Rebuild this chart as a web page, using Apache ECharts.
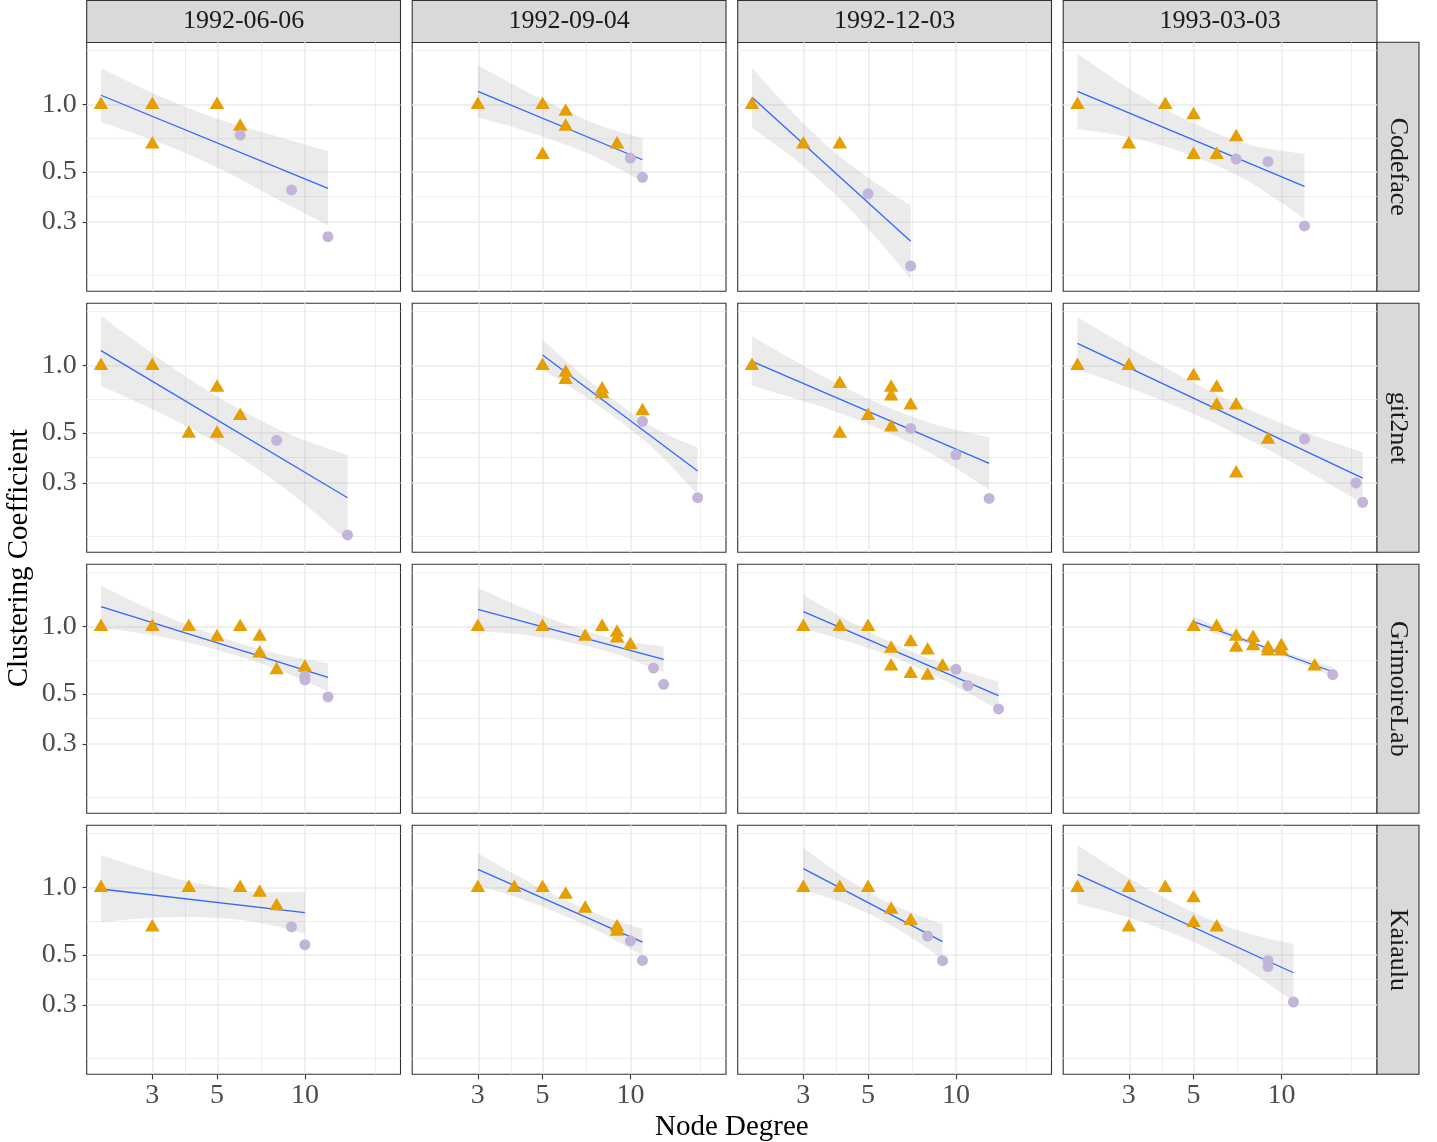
<!DOCTYPE html>
<html>
<head>
<meta charset="utf-8">
<script src="https://cdn.jsdelivr.net/npm/echarts@6.0.0/dist/echarts.min.js"></script>
<style>
  html, body { margin: 0; padding: 0; background: #ffffff; }
  #chart { width: 1437px; height: 1142px; }
</style>
</head>
<body>
<div id="chart"></div>
<script>
// ---------------- data ----------------
const projects = ['Codeface', 'git2net', 'GrimoireLab', 'Kaiaulu'];
const dates = ['1992-06-06', '1992-09-04', '1992-12-03', '1993-03-03'];

const xTicks = [3, 5, 10];
const yTicks = [0.3, 0.5, 1.0];
const xMinorGrid = [3.87, 7.07, 17.3];
const yMinorGrid = [0.173, 0.387, 0.707, 1.73];
const xLimits = [1.787, 21.27];
const yLimits = [0.1474, 1.887];

// panel order: row = project, column = date
// triangles: [node degree, clustering coefficient]
const trianglePoints = [
  [[2,1],[3,1],[3,0.667],[5,1],[6,0.8]],
  [[3,1],[5,1],[6,0.933],[6,0.8],[5,0.6],[9,0.667]],
  [[2,1],[3,0.667],[4,0.667]],
  [[2,1],[3,0.667],[4,1],[5,0.9],[5,0.6],[6,0.6],[7,0.72]],
  [[2,1],[3,1],[5,0.8],[6,0.6],[4,0.5],[5,0.5]],
  [[5,1],[6,0.933],[6,0.867],[8,0.786],[8,0.75],[11,0.63]],
  [[2,1],[4,0.833],[4,0.5],[6,0.8],[6,0.733],[7,0.667],[5,0.6],[6,0.533]],
  [[2,1],[3,1],[5,0.9],[6,0.8],[6,0.667],[7,0.667],[9,0.47],[7,0.333]],
  [[2,1],[3,1],[4,1],[6,1],[5,0.9],[7,0.905],[7,0.762],[8,0.643],[10,0.66]],
  [[3,1],[5,1],[8,1],[7,0.905],[9,0.944],[9,0.889],[10,0.83]],
  [[3,1],[4,1],[5,1],[6,0.8],[7,0.857],[8,0.786],[6,0.667],[7,0.619],[8,0.607],[9,0.667]],
  [[5,1],[6,1],[7,0.905],[7,0.81],[8,0.893],[8,0.821],[9,0.806],[9,0.778],[10,0.822],[10,0.778],[13,0.667]],
  [[2,1],[3,0.667],[4,1],[6,1],[7,0.952],[8,0.83]],
  [[3,1],[4,1],[5,1],[6,0.933],[7,0.81],[9,0.667],[9,0.639]],
  [[3,1],[4,1],[5,1],[6,0.8],[7,0.714]],
  [[2,1],[3,1],[3,0.667],[4,1],[5,0.9],[5,0.7],[6,0.667]]
];

// circles: [node degree, clustering coefficient]
const circlePoints = [
  [[6,0.73],[9,0.416],[12,0.258]],
  [[10,0.577],[11,0.4735]],
  [[5,0.4],[7,0.191]],
  [[7,0.571],[9,0.556],[12,0.288]],
  [[8,0.464],[14,0.176]],
  [[11,0.564],[17,0.2578]],
  [[7,0.524],[10,0.4],[13,0.256]],
  [[12,0.47],[18,0.3],[19,0.246]],
  [[10,0.6],[10,0.578],[12,0.485]],
  [[12,0.652],[13,0.552]],
  [[10,0.644],[11,0.545],[14,0.429]],
  [[15,0.61]],
  [[9,0.667],[10,0.556]],
  [[10,0.578],[11,0.473]],
  [[8,0.607],[9,0.472]],
  [[9,0.472],[9,0.444],[11,0.309]]
];

// fitted line end points: [degree, cc]
const fitLine = [
  [[2,1.097],[12,0.423]],
  [[3,1.142],[11,0.567]],
  [[2,1.074],[7,0.246]],
  [[2,1.142],[12,0.4317]],
  [[2,1.162],[14,0.2578]],
  [[5,1.111],[17,0.339]],
  [[2,1.042],[13,0.3665]],
  [[2,1.252],[19,0.3153]],
  [[2,1.223],[12,0.593]],
  [[3,1.190],[13,0.713]],
  [[3,1.162],[14,0.4915]],
  [[5,1.048],[15,0.628]],
  [[2,0.983],[10,0.771]],
  [[3,1.202],[11,0.571]],
  [[3,1.210],[9,0.573]],
  [[2,1.142],[11,0.417]]
];

// confidence band, read at five degrees per panel
const bandDegree = [
  [2,3.13,4.9,7.67,12],
  [3,4.15,5.74,7.94,11],
  [2,2.74,3.74,5.12,7],
  [2,3.13,4.9,7.67,12],
  [2,3.25,5.29,8.61,14],
  [5,6.79,9.22,12.51,17],
  [2,3.19,5.1,8.14,13],
  [2,3.51,6.17,10.82,19],
  [2,3.13,4.9,7.67,12],
  [3,4.33,6.25,9.02,13],
  [3,4.41,6.48,9.52,14],
  [5,6.58,8.66,11.4,15],
  [2,2.99,4.47,6.69,10],
  [3,4.15,5.74,7.94,11],
  [3,3.94,5.19,6.84,9],
  [2,3.06,4.69,7.18,11]
];
const bandUpper = [
  [1.445,1.096,0.869,0.733,0.620],
  [1.490,1.186,0.963,0.801,0.708],
  [1.455,0.930,0.631,0.462,0.3555],
  [1.679,1.138,0.834,0.664,0.601],
  [1.662,1.048,0.696,0.5017,0.399],
  [1.296,0.915,0.668,0.5137,0.430],
  [1.345,0.953,0.703,0.556,0.4783],
  [1.635,1.070,0.7304,0.530,0.410],
  [1.516,1.150,0.918,0.766,0.6846],
  [1.485,1.202,1.003,0.872,0.815],
  [1.378,1.038,0.809,0.664,0.567],
  [1.107,0.955,0.834,0.7364,0.6615],
  [1.387,1.174,1.031,0.956,0.953],
  [1.416,1.115,0.902,0.750,0.655],
  [1.5,1.158,0.929,0.782,0.6846],
  [1.542,1.083,0.805,0.641,0.558]
];
const bandLower = [
  [0.834,0.680,0.532,0.391,0.2895],
  [0.875,0.777,0.675,0.569,0.4545],
  [0.787,0.585,0.413,0.2715,0.1678],
  [0.777,0.706,0.593,0.456,0.310],
  [0.812,0.607,0.432,0.281,0.1666],
  [0.953,0.7455,0.5633,0.4046,0.267],
  [0.812,0.6775,0.5427,0.4088,0.281],
  [0.9596,0.7355,0.537,0.3715,0.2425],
  [0.986,0.906,0.790,0.659,0.514],
  [0.953,0.915,0.846,0.750,0.624],
  [0.979,0.846,0.706,0.5597,0.426],
  [0.993,0.892,0.790,0.6927,0.597],
  [0.701,0.733,0.7355,0.703,0.624],
  [1.020,0.896,0.7606,0.628,0.498],
  [0.976,0.869,0.7465,0.6115,0.480],
  [0.846,0.729,0.592,0.450,0.312]
];

// ---------------- layout / style ----------------
const FONT = '"Liberation Serif", "DejaVu Serif", serif';
const L0 = 86.7, STEPX = 325.5, PW = 313.8;
const T0 = 42.3, STEPY = 261, PH = 249;
const STRIP = 42;
const lg = Math.log10;

// smooth path through pixel points (Catmull-Rom as cubic Bezier)
function smoothSegs(pts) {
  let d = '';
  for (let k = 0; k < pts.length - 1; k++) {
    const p0 = pts[Math.max(0, k - 1)], p1 = pts[k], p2 = pts[k + 1], p3 = pts[Math.min(pts.length - 1, k + 2)];
    const c1 = [p1[0] + (p2[0] - p0[0]) / 6, p1[1] + (p2[1] - p0[1]) / 6];
    const c2 = [p2[0] - (p3[0] - p1[0]) / 6, p2[1] - (p3[1] - p1[1]) / 6];
    d += ' C' + c1[0] + ' ' + c1[1] + ' ' + c2[0] + ' ' + c2[1] + ' ' + p2[0] + ' ' + p2[1];
  }
  return d;
}

function bandRenderer(i) {
  return function (params, api) {
    if (params.dataIndex !== 0) return null;
    const up = bandDegree[i].map((x, k) => api.coord([lg(x), lg(bandUpper[i][k])]));
    const lo = bandDegree[i].map((x, k) => api.coord([lg(x), lg(bandLower[i][k])])).reverse();
    let d = 'M' + up[0][0] + ' ' + up[0][1] + smoothSegs(up);
    d += ' L' + lo[0][0] + ' ' + lo[0][1] + smoothSegs(lo) + ' Z';
    return { type: 'path', shape: { pathData: d }, style: { fill: 'rgba(153,153,153,0.2)', stroke: null }, silent: true };
  };
}

const grids = [], xAxes = [], yAxes = [], series = [], graphics = [];

for (let r = 0; r < 4; r++) {
  for (let c = 0; c < 4; c++) {
    const i = r * 4 + c;
    const left = L0 + c * STEPX, top = T0 + r * STEPY;
    grids.push({
      left: left, top: top, width: PW, height: PH,
      show: true, borderColor: '#333333', borderWidth: 1.1,
      backgroundColor: '#ffffff', containLabel: false, outerBoundsMode: 'none'
    });
    xAxes.push({
      type: 'value', gridIndex: i, position: 'bottom', min: lg(xLimits[0]), max: lg(xLimits[1]),
      axisLine: { show: false, onZero: false }, splitLine: { show: false },
      axisTick: { show: r === 3, customValues: xTicks.map(lg), length: 5,
                  lineStyle: { color: '#333333', width: 1.1 } },
      axisLabel: { show: r === 3, customValues: xTicks.map(lg), margin: 7,
                   formatter: v => String(Math.round(Math.pow(10, v))),
                   fontFamily: FONT, fontSize: 28, color: '#4D4D4D' }
    });
    yAxes.push({
      type: 'value', gridIndex: i, position: 'left', min: lg(yLimits[0]), max: lg(yLimits[1]),
      axisLine: { show: false, onZero: false }, splitLine: { show: false },
      axisTick: { show: c === 0, customValues: yTicks.map(lg), length: 4,
                  lineStyle: { color: '#333333', width: 1.1 } },
      axisLabel: { show: c === 0, customValues: yTicks.map(lg), margin: 10,
                   formatter: v => Math.pow(10, v).toFixed(1),
                   fontFamily: FONT, fontSize: 28, color: '#4D4D4D' }
    });

    // grid lines (minor then major)
    const gl = [];
    xMinorGrid.forEach(v => gl.push({ xAxis: lg(v), lineStyle: { color: '#EBEBEB', width: 0.8, type: 'solid' } }));
    yMinorGrid.forEach(v => gl.push({ yAxis: lg(v), lineStyle: { color: '#EBEBEB', width: 0.8, type: 'solid' } }));
    xTicks.forEach(v => gl.push({ xAxis: lg(v), lineStyle: { color: '#EBEBEB', width: 1.5, type: 'solid' } }));
    yTicks.forEach(v => gl.push({ yAxis: lg(v), lineStyle: { color: '#EBEBEB', width: 1.5, type: 'solid' } }));
    series.push({
      type: 'scatter', xAxisIndex: i, yAxisIndex: i,
      data: [[lg(xLimits[0]), lg(yLimits[0])]], symbolSize: 0, silent: true, z: 0,
      markLine: { silent: true, symbol: ['none', 'none'], label: { show: false },
                  emphasis: { disabled: true }, animation: false, z: 0, data: gl }
    });

    // confidence band
    series.push({
      type: 'custom', xAxisIndex: i, yAxisIndex: i,
      data: bandDegree[i].map((x, k) => [lg(x), lg(bandLower[i][k]), lg(bandUpper[i][k])]),
      encode: { x: 0, y: [1, 2] },
      renderItem: bandRenderer(i), silent: true, z: 2
    });

    // fitted line
    series.push({
      type: 'line', xAxisIndex: i, yAxisIndex: i,
      data: fitLine[i].map(p => [lg(p[0]), lg(p[1])]),
      symbol: 'none', lineStyle: { color: '#3366FF', width: 1.3 }, silent: true, z: 3
    });

    // points
    series.push({
      type: 'scatter', xAxisIndex: i, yAxisIndex: i,
      data: trianglePoints[i].map(p => [lg(p[0]), lg(p[1])]),
      symbol: 'triangle', symbolSize: [14.5, 12.5], symbolOffset: [0, -1.5],
      itemStyle: { color: '#E69F00', opacity: 1 }, silent: true, z: 4
    });
    series.push({
      type: 'scatter', xAxisIndex: i, yAxisIndex: i,
      data: circlePoints[i].map(p => [lg(p[0]), lg(p[1])]),
      symbol: 'circle', symbolSize: 11,
      itemStyle: { color: '#C3B4D9', opacity: 1 }, silent: true, z: 5
    });
  }
}

// strips (top: dates)
dates.forEach((d, c) => {
  const left = L0 + c * STEPX;
  graphics.push({ type: 'rect', shape: { x: left, y: 0.5, width: PW, height: STRIP },
    style: { fill: '#D9D9D9', stroke: '#333333', lineWidth: 1.1 }, silent: true });
  graphics.push({ type: 'text', x: left + PW / 2, y: 21.5,
    style: { text: d, font: '26px ' + FONT, fill: '#1A1A1A', align: 'center', verticalAlign: 'middle' }, silent: true });
});
// strips (right: projects)
projects.forEach((p, r) => {
  const top = T0 + r * STEPY;
  const sx = L0 + 3 * STEPX + PW;
  graphics.push({ type: 'rect', shape: { x: sx, y: top, width: STRIP, height: PH },
    style: { fill: '#D9D9D9', stroke: '#333333', lineWidth: 1.1 }, silent: true });
  graphics.push({ type: 'text', x: sx + STRIP / 2, y: top + PH / 2, rotation: -Math.PI / 2,
    style: { text: p, font: '26px ' + FONT, fill: '#1A1A1A', align: 'center', verticalAlign: 'middle' }, silent: true });
});
// axis titles
graphics.push({ type: 'text', x: (L0 + L0 + 3 * STEPX + PW) / 2, y: 1127,
  style: { text: 'Node Degree', font: '29px ' + FONT, fill: '#000000', align: 'center', verticalAlign: 'middle' }, silent: true });
graphics.push({ type: 'text', x: 19, y: (T0 + T0 + 3 * STEPY + PH) / 2, rotation: Math.PI / 2,
  style: { text: 'Clustering Coefficient', font: '29px ' + FONT, fill: '#000000', align: 'center', verticalAlign: 'middle' }, silent: true });

const chart = echarts.init(document.getElementById('chart'), null, { renderer: 'canvas' });
chart.setOption({
  animation: false,
  backgroundColor: '#ffffff',
  grid: grids, xAxis: xAxes, yAxis: yAxes, series: series,
  graphic: { elements: graphics }
});
</script>
</body>
</html>
